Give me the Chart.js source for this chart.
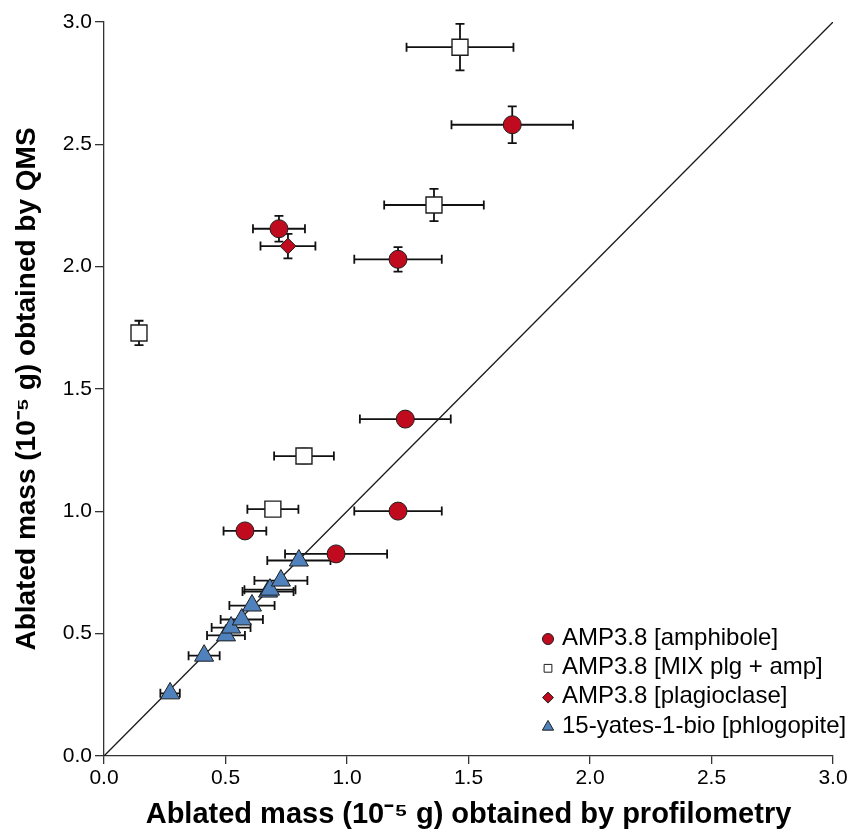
<!DOCTYPE html>
<html>
<head>
<meta charset="utf-8">
<script src="https://cdn.jsdelivr.net/npm/chart.js@4.4.0/dist/chart.umd.min.js"></script>
<style>
  html, body { margin: 0; padding: 0; background: #ffffff; }
  #wrap { width: 864px; height: 836px; }
</style>
</head>
<body>
<div id="wrap"><canvas id="c" width="864" height="836"></canvas></div>
<script>
// ---------- DATA ----------
const seriesLabels = [
  'AMP3.8 [amphibole]',
  'AMP3.8 [MIX plg + amp]',
  'AMP3.8 [plagioclase]',
  '15-yates-1-bio [phlogopite]'
];

// AMP3.8 [amphibole]
const amphX    = [1.68, 1.21, 0.72, 1.24, 1.21, 0.58, 0.955];
const amphY    = [2.58, 2.03, 2.155, 1.377, 1.001, 0.92, 0.826];
const amphXErr = [0.25, 0.18, 0.107, 0.187, 0.18, 0.088, 0.21];
const amphYErr = [0.075, 0.05, 0.053, 0, 0, 0, 0];

// AMP3.8 [MIX plg + amp]
const mixX    = [1.465, 1.358, 0.144, 0.823, 0.695];
const mixY    = [2.897, 2.252, 1.729, 1.226, 1.009];
const mixXErr = [0.22, 0.205, 0, 0.123, 0.105];
const mixYErr = [0.095, 0.066, 0.05, 0.03, 0];

// AMP3.8 [plagioclase]
const plgX    = [0.757];
const plgY    = [2.084];
const plgXErr = [0.113];
const plgYErr = [0.05];

// 15-yates-1-bio [phlogopite]
const phlX    = [0.272, 0.412, 0.502, 0.523, 0.567, 0.609, 0.675, 0.683, 0.728, 0.802];
const phlY    = [0.256, 0.41, 0.493, 0.525, 0.558, 0.615, 0.672, 0.68, 0.717, 0.799];
const phlXErr = [0.04, 0.064, 0.078, 0.08, 0.087, 0.093, 0.105, 0.105, 0.109, 0.13];
const phlYErr = [0, 0, 0, 0, 0, 0, 0, 0, 0, 0];

// 1:1 reference line
const identityLine = [0, 3];

// axis ticks
const tickValues = [0, 0.5, 1.0, 1.5, 2.0, 2.5, 3.0];
const xTitle = 'Ablated mass (10\u207B\u2075 g) obtained by profilometry';
const yTitle = 'Ablated mass (10\u207B\u2075 g) obtained by QMS';

// ---------- BUILD ----------
const pts = (xs, ys) => xs.map((x, i) => ({ x: x, y: ys[i] }));
const FONT = "'Liberation Sans', Arial, Helvetica, sans-serif";

const datasets = [
  {
    label: seriesLabels[0], data: pts(amphX, amphY), errX: amphXErr, errY: amphYErr,
    pointStyle: 'circle', pointRadius: 9, pointHoverRadius: 9,
    backgroundColor: '#c00a1e', borderColor: '#1e1e1e', borderWidth: 1, legendRadius: 5.5
  },
  {
    label: seriesLabels[1], data: pts(mixX, mixY), errX: mixXErr, errY: mixYErr,
    pointStyle: 'rect', pointRadius: 11.3, pointHoverRadius: 11.3,
    backgroundColor: '#ffffff', borderColor: '#1e1e1e', borderWidth: 1.4, legendRadius: 5.5
  },
  {
    label: seriesLabels[2], data: pts(plgX, plgY), errX: plgXErr, errY: plgYErr,
    pointStyle: 'rectRot', pointRadius: 8, pointHoverRadius: 8,
    backgroundColor: '#c00a1e', borderColor: '#1e1e1e', borderWidth: 1, legendRadius: 5.5
  },
  {
    label: seriesLabels[3], data: pts(phlX, phlY), errX: phlXErr, errY: phlYErr,
    pointStyle: 'triangle', pointRadius: 11, pointHoverRadius: 11,
    backgroundColor: '#4f81bd', borderColor: '#1e1e1e', borderWidth: 1, legendRadius: 6.5
  },
  {
    type: 'line', label: '1:1', data: pts(identityLine, identityLine),
    borderColor: '#1a1a1a', borderWidth: 1.3, pointRadius: 0, fill: false, order: 10
  }
];

const errorBars = {
  id: 'errorBars',
  beforeDatasetsDraw(chart) {
    const ctx = chart.ctx, xs = chart.scales.x, ys = chart.scales.y;
    const cap = 4.5;
    ctx.save();
    ctx.strokeStyle = '#111';
    ctx.lineWidth = 1.8;
    chart.data.datasets.forEach(ds => {
      if (!ds.errX) return;
      ds.data.forEach((p, i) => {
        const px = xs.getPixelForValue(p.x), py = ys.getPixelForValue(p.y);
        const ex = ds.errX[i] || 0, ey = ds.errY[i] || 0;
        ctx.beginPath();
        if (ex > 0) {
          const x1 = xs.getPixelForValue(p.x - ex), x2 = xs.getPixelForValue(p.x + ex);
          ctx.moveTo(x1, py); ctx.lineTo(x2, py);
          ctx.moveTo(x1, py - cap); ctx.lineTo(x1, py + cap);
          ctx.moveTo(x2, py - cap); ctx.lineTo(x2, py + cap);
        }
        if (ey > 0) {
          const y1 = ys.getPixelForValue(p.y - ey), y2 = ys.getPixelForValue(p.y + ey);
          ctx.moveTo(px, y1); ctx.lineTo(px, y2);
          ctx.moveTo(px - cap, y1); ctx.lineTo(px + cap, y1);
          ctx.moveTo(px - cap, y2); ctx.lineTo(px + cap, y2);
        }
        ctx.stroke();
      });
    });
    ctx.restore();
  }
};

const customLegend = {
  id: 'customLegend',
  afterDraw(chart) {
    const ctx = chart.ctx;
    const mx = 548, tx = 562, y0 = 638, dy = 29.3;
    ctx.save();
    ctx.font = '24px ' + FONT;
    ctx.textBaseline = 'middle';
    chart.data.datasets.slice(0, 4).forEach((ds, i) => {
      const y = y0 + i * dy;
      ctx.fillStyle = ds.backgroundColor;
      ctx.strokeStyle = ds.borderColor;
      ctx.lineWidth = 1;
      Chart.helpers.drawPoint(ctx, { pointStyle: ds.pointStyle, radius: ds.legendRadius, rotation: 0, borderWidth: 1 }, mx, y + 1);
      ctx.fillStyle = '#000';
      ctx.fillText(ds.label, tx, y);
    });
    ctx.restore();
  }
};

new Chart(document.getElementById('c'), {
  type: 'scatter',
  data: { datasets: datasets },
  options: {
    responsive: false,
    devicePixelRatio: 1,
    animation: false,
    layout: { padding: { top: 22, right: 31, left: 0, bottom: 0 } },
    plugins: {
      legend: { display: false },
      tooltip: { enabled: false }
    },
    scales: {
      x: {
        type: 'linear', min: 0, max: 3,
        afterBuildTicks: s => { s.ticks = tickValues.map(v => ({ value: v })); },
        afterFit: s => { s.height = 80; },
        ticks: {
          callback: v => Number(v).toFixed(1),
          color: '#000', font: { family: FONT, size: 21 }, padding: 2, autoSkip: false, maxRotation: 0
        },
        grid: { display: true, drawOnChartArea: false, drawTicks: true, tickLength: 8, color: '#333', lineWidth: 1.3 },
        border: { display: true, color: '#333', width: 1.3 },
        title: {
          display: true, text: xTitle, color: '#000',
          font: { family: FONT, size: 29, weight: 'bold' }, padding: { top: 0, bottom: 4 }
        }
      },
      y: {
        type: 'linear', min: 0, max: 3,
        afterBuildTicks: s => { s.ticks = tickValues.map(v => ({ value: v })); },
        afterFit: s => { s.width = 104; },
        ticks: {
          callback: v => Number(v).toFixed(1),
          color: '#000', font: { family: FONT, size: 21 }, padding: 3, autoSkip: false
        },
        grid: { display: true, drawOnChartArea: false, drawTicks: true, tickLength: 9, color: '#333', lineWidth: 1.3 },
        border: { display: true, color: '#333', width: 1.3 },
        title: {
          display: true, text: yTitle, color: '#000',
          font: { family: FONT, size: 28, weight: 'bold' }, padding: { top: 10, bottom: 0 }
        }
      }
    }
  },
  plugins: [errorBars, customLegend]
});
</script>
</body>
</html>
